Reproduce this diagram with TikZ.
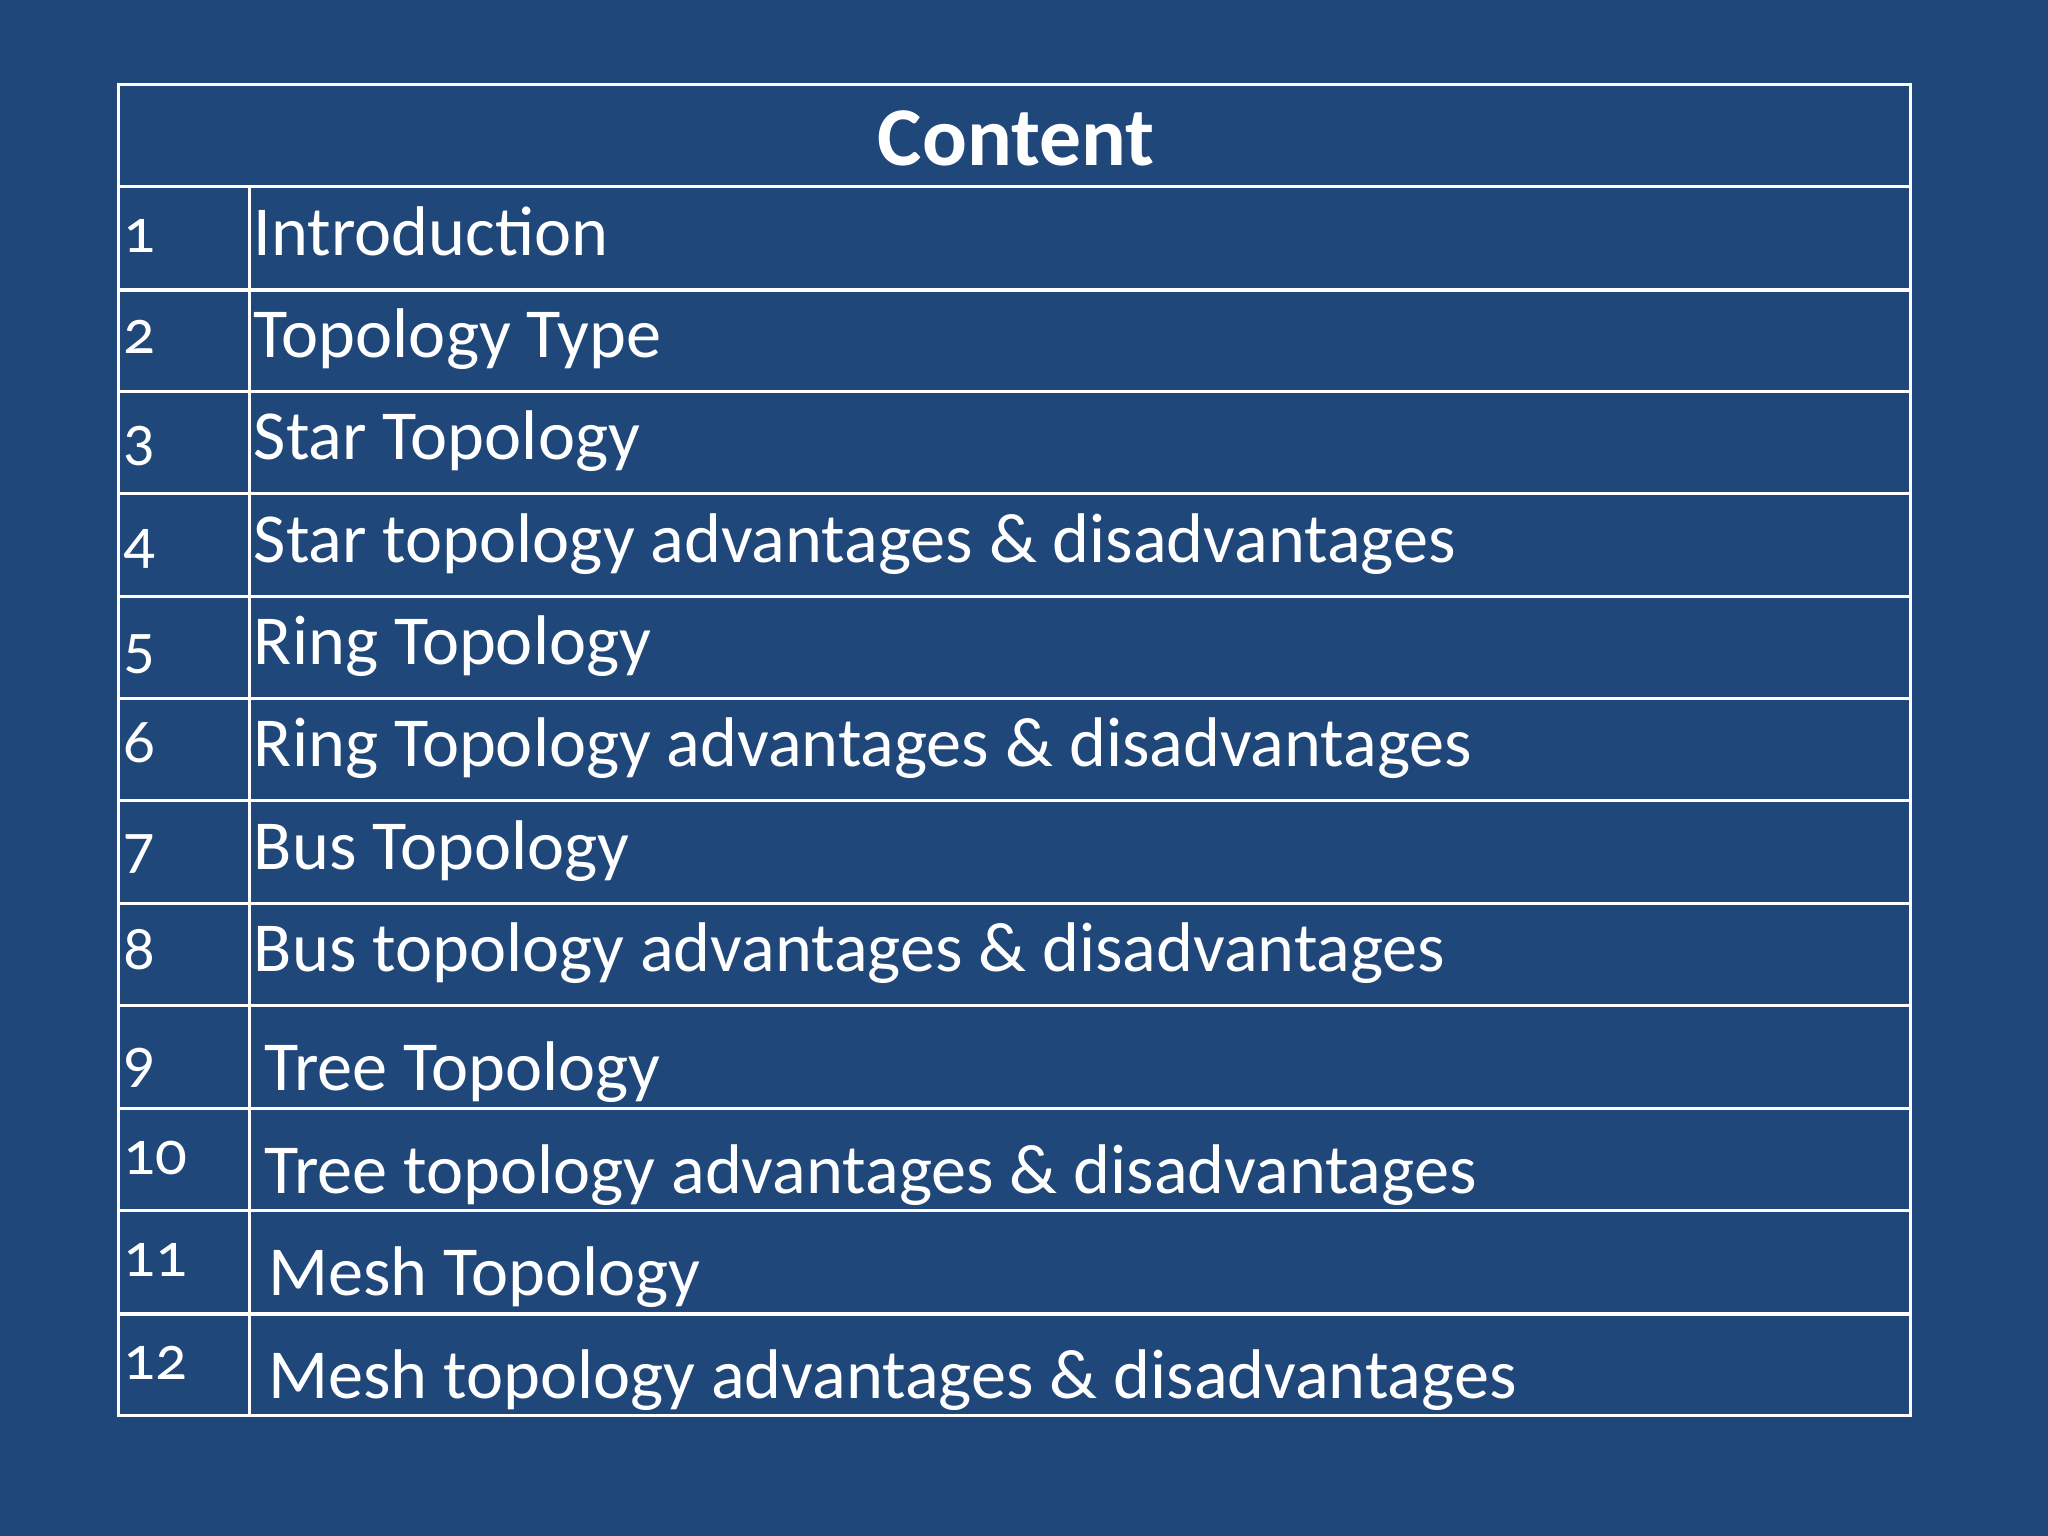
\documentclass[tikz,border=0pt]{standalone}
\usepackage{fontspec}
\setmainfont{Carlito}[Numbers=OldStyle]
\definecolor{bg}{HTML}{20477A}
\begin{document}
\begin{tikzpicture}[x=0.5pt,y=-0.5pt,
  line/.style={draw=white,line width=1.2pt},
  num/.style={anchor=base west,text=white,font=\fontsize{24}{24}\selectfont,inner sep=0pt},
  item/.style={anchor=base west,text=white,font=\fontsize{26.9}{27}\selectfont,inner sep=0pt}]
\fill[bg] (0,0) rectangle (1568,1176);
\useasboundingbox (0,0) rectangle (1568,1176);
\draw[line] (91,65) rectangle (1463,1084);
\draw[line] (191,143) -- (191,1084);
\foreach \y in {143,222,300,378,457,535,613,692,770,849,927,1006}
  \draw[line] (91,\y) -- (1463,\y);
\node[anchor=base,text=white,font=\fontsize{32}{32}\selectfont\bfseries,inner sep=0pt] (title) at (778,127) {Content};
\foreach \n/\t/\yb/\xo in {1/Introduction/196/0,2/Topology Type/274/0,3/Star Topology/352/0,
  4/Star topology advantages \& disadvantages/431/0,5/Ring Topology/509/0,
  6/Ring Topology advantages \& disadvantages/587/0,7/Bus Topology/666/0,
  8/Bus topology advantages \& disadvantages/744/0,9/Tree Topology/835/8,
  10/Tree topology advantages \& disadvantages/914/8,11/Mesh Topology/992/11,
  12/Mesh topology advantages \& disadvantages/1071/11}{
  \node[item] (t\n) at (194+\xo,\yb) {\t};
}
\foreach \n/\yb in {1/193,2/271,3/352,4/431,5/511,6/584,7/664,8/742,9/828,10/899,11/977,12/1056}
  \node[num] (n\n) at (94,\yb) {\n};
\end{tikzpicture}
\end{document}
